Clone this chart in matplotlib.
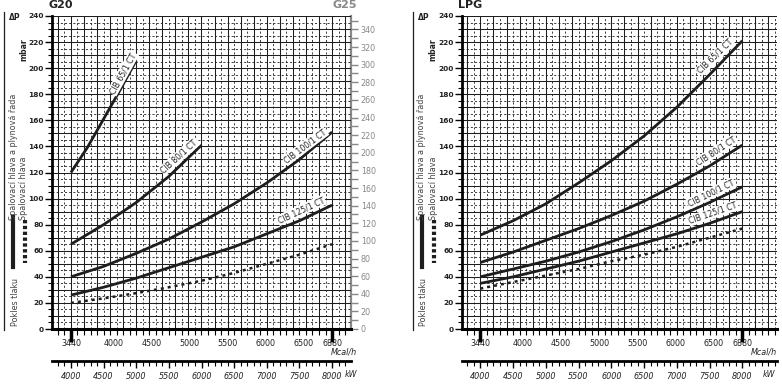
import numpy as np
import matplotlib
matplotlib.use('Agg')
import matplotlib.pyplot as plt
from matplotlib.ticker import MultipleLocator
from matplotlib.lines import Line2D

# burner output in kW where the curves were read
kw = [4000, 4500, 5000, 5500, 6000, 6500, 7000, 7500, 8000]

# natural gas G20 (mbar)
g20_65_kw = [4000, 4250, 4500, 4750, 5000]
g20_65 = [120, 139, 161, 183, 206]
g20_80_kw = [4000, 4500, 5000, 5500, 6000]
g20_80 = [65, 80, 97, 117, 141]
g20_100 = [40, 48, 58, 69, 82, 96, 112, 130, 151]
g20_125 = [26, 32, 39, 47, 55, 63, 73, 83, 95]
g20_head = [20, 23.5, 27.5, 32, 37, 43, 50, 57, 65]

# LPG (mbar)
lpg_65 = [72, 83, 96, 112, 129, 148, 170, 195, 221]
lpg_80 = [51, 59, 68, 77, 87, 98, 111, 125, 141]
lpg_100 = [40, 46, 52, 59, 67, 76, 86, 97, 109]
lpg_125 = [35, 40, 46, 52, 59, 66, 73, 81, 90]
lpg_head = [31, 36, 41, 46, 52, 57, 63, 70, 77]

mcal_ticks = [3440, 4000, 4500, 5000, 5500, 6000, 6500, 6880]
kw_ticks = [4000, 4500, 5000, 5500, 6000, 6500, 7000, 7500, 8000]
KCAL = 0.86          # Mcal/h per kW
G25_FACTOR = 1.48    # G25 scale vs G20 scale

W, H = 782, 388
DARK = '#1e1e1e'
TXT = '#222222'


def fx(px):
    return px / W


def fy(py):
    return 1 - py / H


def draw_grid(ax, xmin, xmax):
    for y in range(5, 241, 5):
        if y % 10 == 0:
            ax.axhline(y, color=DARK, lw=0.75, zorder=1)
        else:
            ax.axhline(y, color=DARK, lw=0.6, ls=(0, (2.5, 2.5)), zorder=1)
    for k in range(int(xmin // 100 + 1) * 100, int(xmax) + 1, 100):
        if k % 200 == 0:
            ax.axvline(k, color=DARK, lw=0.75, zorder=1)
        else:
            ax.axvline(k, color=DARK, lw=0.6, ls=(0, (2.5, 2.5)), zorder=1)


def setup_axes(ax, xmin, xmax, mcal_x, kw_x):
    ax.set_xlim(xmin, xmax)
    ax.set_ylim(0, 240)
    draw_grid(ax, xmin, xmax)
    for s in ['top', 'right']:
        ax.spines[s].set_visible(False)
    ax.spines['bottom'].set_linewidth(2.2)
    ax.spines['left'].set_linewidth(2)

    ax.yaxis.set_major_locator(MultipleLocator(20))
    ax.yaxis.set_minor_locator(MultipleLocator(5))
    ax.tick_params(axis='y', which='major', length=5, width=1, labelsize=5.3,
                   labelcolor=TXT, pad=1)
    ax.tick_params(axis='y', which='minor', length=3, width=0.8)
    for lab in ax.get_yticklabels():
        lab.set_fontweight('bold')

    # 3440 / 6880 Mcal/h marks
    ax.set_xticks([4000, 8000])
    ax.set_xticklabels(['', ''])
    ax.xaxis.set_minor_locator(MultipleLocator(100))
    ax.tick_params(axis='x', which='major', length=9, width=2.5)
    ax.tick_params(axis='x', which='minor', length=4, width=0.8)

    mcal = ax.secondary_xaxis('bottom', functions=(lambda k: k * KCAL, lambda m: m / KCAL))
    mcal.set_xticks(mcal_ticks)
    mcal.tick_params(length=0, pad=7, labelsize=5.8, labelcolor=TXT)
    mcal.spines['bottom'].set_visible(False)

    kwax = ax.secondary_xaxis(-0.102)
    kwax.set_xticks(kw_ticks)
    kwax.xaxis.set_minor_locator(MultipleLocator(100))
    kwax.spines['bottom'].set_linewidth(2)
    kwax.tick_params(which='major', length=5, width=1, labelsize=5.8, labelcolor=TXT, pad=3)
    kwax.tick_params(which='minor', length=3.5, width=0.8)
    for lab in kwax.get_xticklabels():
        lab.set_fontstyle('italic')

    ax.text(mcal_x, -0.073, 'Mcal/h', transform=ax.transAxes, ha='right', va='center',
            fontsize=5.8, style='italic', color=TXT)
    ax.text(kw_x, -0.144, 'kW', transform=ax.transAxes, ha='left', va='center',
            fontsize=5.8, style='italic', color=TXT)


def curve_label(ax, xs, ys, k, text, rot, dx, dy):
    ax.annotate(text, xy=(k, np.interp(k, xs, ys)), xytext=(dx, dy), textcoords='offset points',
                rotation=rot, rotation_mode='anchor', ha='center', va='center', fontsize=5.6,
                color=TXT, zorder=5,
                bbox=dict(boxstyle='square,pad=0.12', fc='white', ec='none'))


def side_texts(fig, off):
    fig.add_artist(Line2D([fx(4 + off), fx(4 + off)], [fy(12), fy(330)], color=DARK, lw=0.9))
    fig.text(fx(9 + off), fy(18), 'ΔP', fontsize=5.5, fontweight='bold', color=TXT,
             ha='left', va='center')
    fig.text(fx(24 + off), fy(50), 'mbar', fontsize=5.6, fontweight='bold', color=TXT,
             rotation=90, ha='center', va='center')
    fig.text(fx(13 + off), fy(220), 'Spalovací hlava a plynová řada', fontsize=5.8, color='#444444',
             rotation=90, ha='center', va='bottom')
    fig.text(fx(24 + off), fy(220), 'Spalovací hlava', fontsize=5.8, color='#444444',
             rotation=90, ha='center', va='bottom')
    fig.text(fx(15 + off), fy(302), 'Pokles tlaku', fontsize=5.8, color='#444444',
             rotation=90, ha='center', va='center')
    fig.add_artist(Line2D([fx(13 + off), fx(13 + off)], [fy(217), fy(267)], color=DARK, lw=3))
    fig.add_artist(Line2D([fx(25 + off), fx(25 + off)], [fy(220), fy(263)], color=DARK, lw=3,
                          ls=(0, (0.8, 0.6))))


fig = plt.figure(figsize=(W / 100, H / 100), dpi=100)

# ---- G20 / G25 panel ----
ax1 = fig.add_axes([fx(52), fy(329), 299 / W, 313 / H])
setup_axes(ax1, 3710, 8290, 1.02, 0.98)
ax1.plot(g20_65_kw, g20_65, color=DARK, lw=2, zorder=4, solid_capstyle='butt')
ax1.plot(g20_80_kw, g20_80, color=DARK, lw=2, zorder=4, solid_capstyle='butt')
ax1.plot(kw, g20_100, color=DARK, lw=2, zorder=4, solid_capstyle='butt')
ax1.plot(kw, g20_125, color=DARK, lw=2, zorder=4, solid_capstyle='butt')
ax1.plot(kw, g20_head, color=DARK, lw=1.8, zorder=4, ls=(0, (1.2, 1.6)))
curve_label(ax1, g20_65_kw, g20_65, 4840, 'CIB 65/1 CT', 61, -2, 4.5)
curve_label(ax1, g20_80_kw, g20_80, 5700, 'CIB 80/1 CT', 42, -2, 5.5)
curve_label(ax1, kw, g20_100, 7632, 'CIB 100/1 CT', 37, -2, 4.5)
curve_label(ax1, kw, g20_125, 7570, 'CIB 125/1 CT', 25, -2, 6)
ax1.text(-0.013, 1.02, 'G20', transform=ax1.transAxes, fontsize=8, fontweight='bold',
         color=TXT, ha='left', va='bottom')

g25 = ax1.secondary_yaxis('right', functions=(lambda y: y * G25_FACTOR, lambda y: y / G25_FACTOR))
g25.set_yticks(range(0, 341, 20))
g25.yaxis.set_minor_locator(MultipleLocator(10))
g25.spines['right'].set_color('#888888')
g25.spines['right'].set_linewidth(1.6)
g25.tick_params(which='both', length=5, width=1, colors='#888888', labelsize=5.8, pad=2)
ax1.text(1.02, 1.02, 'G25', transform=ax1.transAxes, fontsize=8, fontweight='bold',
         color='#888888', ha='right', va='bottom')

# ---- LPG panel ----
ax2 = fig.add_axes([fx(462), fy(329), 315 / W, 313 / H])
setup_axes(ax2, 3720, 8530, 1.0, 0.956)
ax2.plot(kw, lpg_65, color=DARK, lw=2, zorder=4, solid_capstyle='butt')
ax2.plot(kw, lpg_80, color=DARK, lw=2, zorder=4, solid_capstyle='butt')
ax2.plot(kw, lpg_100, color=DARK, lw=2, zorder=4, solid_capstyle='butt')
ax2.plot(kw, lpg_125, color=DARK, lw=2, zorder=4, solid_capstyle='butt')
ax2.plot(kw, lpg_head, color=DARK, lw=1.8, zorder=4, ls=(0, (1.2, 1.6)))
curve_label(ax2, kw, lpg_65, 7629, 'CIB 65/1 CT', 44, -2, 7)
curve_label(ax2, kw, lpg_80, 7644, 'CIB 80/1 CT', 33, -2, 6.5)
curve_label(ax2, kw, lpg_100, 7568, 'CIB 100/1 CT', 26, -2, 5.3)
curve_label(ax2, kw, lpg_125, 7598, 'CIB 125/1 CT', 19, -2, 5.8)
ax2.text(-0.013, 1.02, 'LPG', transform=ax2.transAxes, fontsize=8, fontweight='bold',
         color=TXT, ha='left', va='bottom')

side_texts(fig, 0)
side_texts(fig, 409)

fig.savefig('out.png', dpi=100)
